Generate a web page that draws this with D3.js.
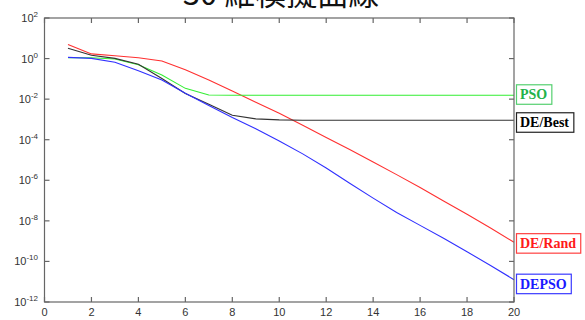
<!DOCTYPE html>
<html>
<head>
<meta charset="utf-8">
<script src="https://cdn.jsdelivr.net/npm/d3@7/dist/d3.min.js"></script>
<style>
  html, body { margin: 0; padding: 0; background: #fff; }
  svg { display: block; }
</style>
</head>
<body>
<div id="chart"></div>
<script>
// convergence curves, values
const TITLE = "30 維模擬曲線";
const ITER = d3.range(1, 21);

const DE_RAND = [5.0, 1.7, 1.38, 1.1, 0.76, 0.28, 0.087, 0.025, 7.1e-3, 2.0e-3,
  5.2e-4, 1.3e-4, 3.3e-5, 7.9e-6, 1.9e-6, 4.4e-7, 9.5e-8, 2.1e-8, 4.4e-9, 8.9e-10];
const PSO = [1.1, 1.1, 0.95, 0.5, 0.155, 0.034, 0.016, 0.0155, 0.0155, 0.0155,
  0.0155, 0.0155, 0.0155, 0.0155, 0.0155, 0.0155, 0.0155, 0.0155, 0.0155, 0.0155];
const DE_BEST = [3.2, 1.45, 1.02, 0.52, 0.105, 0.019, 5.6e-3, 1.6e-3, 1.07e-3, 9.5e-4,
  9.1e-4, 9.1e-4, 9.1e-4, 9.1e-4, 9.1e-4, 9.1e-4, 9.1e-4, 9.1e-4, 9.1e-4, 9.1e-4];
const DEPSO = [1.15, 1.02, 0.66, 0.25, 0.087, 0.0195, 4.8e-3, 1.23e-3, 3.5e-4, 8.7e-5,
  2.0e-5, 4.0e-6, 7.1e-7, 1.32e-7, 2.6e-8, 6.0e-9, 1.4e-9, 3.0e-10, 6.3e-11, 1.26e-11];

const X_TICKS = [0, 2, 4, 6, 8, 10, 12, 14, 16, 18, 20];
const Y_EXPS = [2, 0, -2, -4, -6, -8, -10, -12];

const SERIES = [
  { name: "DE/Rand", vals: DE_RAND, line: "#ff3030", text: "#ff1a1a", border: "#ff4040", dy: 1 },
  { name: "PSO",     vals: PSO,     line: "#33ee33", text: "#22b24a", border: "#55d070", dy: -1 },
  { name: "DE/Best", vals: DE_BEST, line: "#333333", text: "#000000", border: "#222222", dy: 2 },
  { name: "DEPSO",   vals: DEPSO,   line: "#3030ff", text: "#1a1aff", border: "#3a3aff", dy: 4 }
];

const W = 585, H = 320;
const m = { l: 44.5, r: 71, t: 18, b: 18 };

const svg = d3.select("#chart").append("svg").attr("width", W).attr("height", H);

const x = d3.scaleLinear().domain([0, 20]).range([m.l, W - m.r]);
const y = d3.scaleLog().domain([1e-12, 1e2]).range([H - m.b, m.t]);

// title (cut off at top as in the original)
svg.append("text").attr("x", 281).attr("y", 4.5).attr("text-anchor", "middle")
  .style("font-family", "'Noto Sans CJK TC', sans-serif").style("font-size", "31px")
  .style("fill", "#111").text(TITLE);

const lineGen = d3.line().x((d, i) => x(ITER[i])).y(d => y(d));

SERIES.forEach(s => {
  svg.append("path").datum(s.vals).attr("fill", "none")
    .attr("stroke", s.line).attr("stroke-width", 1.1).attr("d", lineGen);
});

// frame + ticks, matlab style
const axCol = "#666";
svg.append("rect").attr("x", x(0)).attr("y", y(1e2))
  .attr("width", x(20) - x(0)).attr("height", y(1e-12) - y(1e2))
  .attr("fill", "none").attr("stroke", axCol).attr("stroke-width", 1.2);

X_TICKS.forEach(t => {
  svg.append("line").attr("x1", x(t)).attr("x2", x(t)).attr("y1", y(1e-12)).attr("y2", y(1e-12) - 5)
    .attr("stroke", axCol).attr("stroke-width", 1.2);
  svg.append("line").attr("x1", x(t)).attr("x2", x(t)).attr("y1", y(1e2)).attr("y2", y(1e2) + 5)
    .attr("stroke", axCol).attr("stroke-width", 1.2);
  svg.append("text").attr("x", x(t)).attr("y", y(1e-12) + 14).attr("text-anchor", "middle")
    .style("font-family", "Arial, 'Liberation Sans', sans-serif").style("font-size", "11px")
    .style("fill", "#333").text(t);
});

Y_EXPS.forEach(e => {
  const yy = y(Math.pow(10, e));
  svg.append("line").attr("x1", x(0)).attr("x2", x(0) + 5).attr("y1", yy).attr("y2", yy)
    .attr("stroke", axCol).attr("stroke-width", 1.2);
  svg.append("line").attr("x1", x(20)).attr("x2", x(20) - 5).attr("y1", yy).attr("y2", yy)
    .attr("stroke", axCol).attr("stroke-width", 1.2);
  const lbl = svg.append("text").attr("x", 38).attr("y", yy + 4).attr("text-anchor", "end")
    .style("font-family", "Arial, 'Liberation Sans', sans-serif").style("font-size", "11px")
    .style("fill", "#333");
  lbl.append("tspan").text("10");
  lbl.append("tspan").attr("dy", -5).style("font-size", "8px").text(e);
});

// label boxes at line ends
SERIES.forEach(s => {
  const cy = y(s.vals[s.vals.length - 1]) + s.dy;
  const g = svg.append("g");
  const t = g.append("text").attr("x", 520).attr("y", cy + 5)
    .style("font-family", "'Liberation Serif', 'Times New Roman', serif")
    .style("font-weight", "bold").style("font-size", "14px")
    .style("fill", s.text).text(s.name);
  const bb = t.node().getBBox();
  g.insert("rect", "text").attr("x", 516.5).attr("y", cy - 9.5)
    .attr("width", bb.width + 8).attr("height", 19.5)
    .attr("fill", "#fff").attr("stroke", s.border).attr("stroke-width", 1.2);
});
</script>
</body>
</html>
